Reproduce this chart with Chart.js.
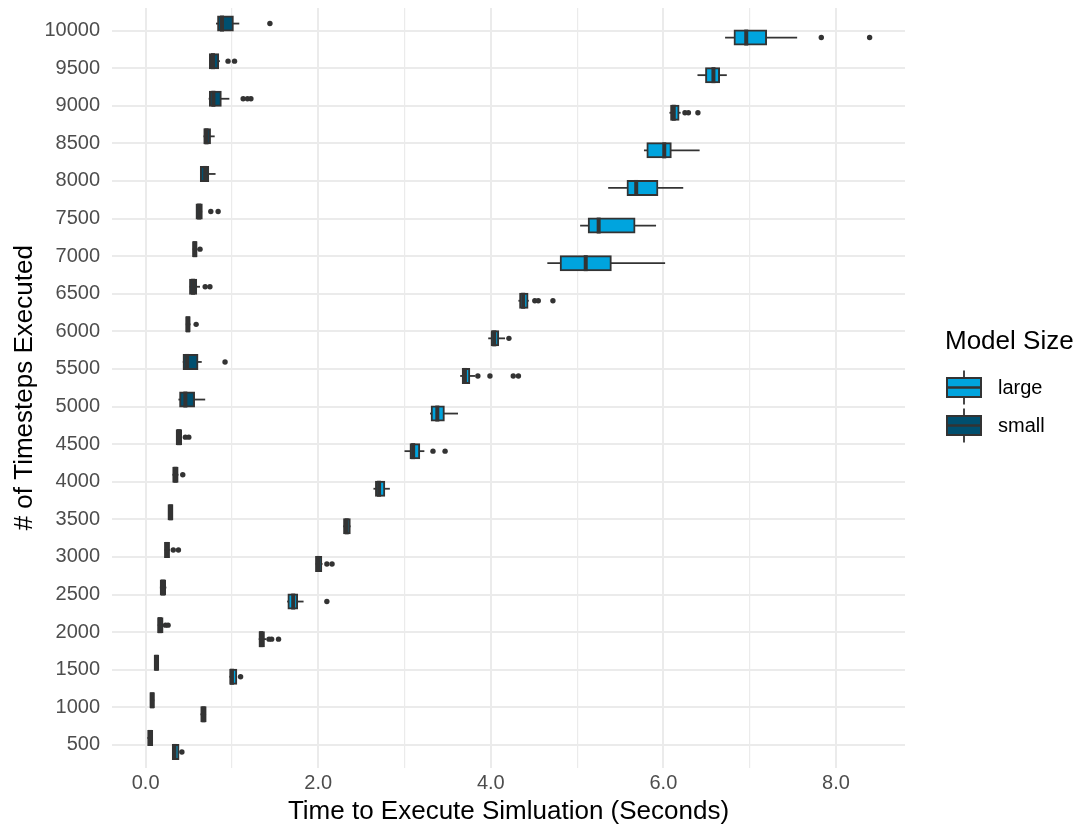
<!DOCTYPE html>
<html>
<head>
<meta charset="utf-8">
<script src="https://cdn.jsdelivr.net/npm/chart.js@4.4.1/dist/chart.umd.min.js"></script>
<style>
  html, body { margin: 0; padding: 0; background: #ffffff; }
  #c { display: block; }
</style>
</head>
<body>
<canvas id="c" width="1076" height="830"></canvas>
<script>
// Number of timesteps per run (y categories, bottom to top)
const steps = [500, 1000, 1500, 2000, 2500, 3000, 3500, 4000, 4500, 5000,
               5500, 6000, 6500, 7000, 7500, 8000, 8500, 9000, 9500, 10000];

// x-axis tick values (seconds)
const xTicks = [0, 1, 2, 3, 4, 5, 6, 7, 8];

// Large model: box-plot summaries (seconds)
const largeLo  = [0.31, 0.635, 0.97, 1.31, 1.64, 1.97, 2.29, 2.64, 3.00, 3.295,
                  3.645, 3.97, 4.32, 4.655, 5.035, 5.36, 5.775, 6.07, 6.395, 6.715];
const largeQ1  = [0.315, 0.645, 0.98, 1.32, 1.655, 1.975, 2.30, 2.67, 3.07, 3.315,
                  3.675, 4.01, 4.34, 4.81, 5.135, 5.585, 5.815, 6.09, 6.495, 6.825];
const largeMed = [0.335, 0.67, 1.00, 1.34, 1.71, 2.00, 2.33, 2.705, 3.10, 3.38,
                  3.70, 4.04, 4.375, 5.10, 5.25, 5.685, 6.01, 6.12, 6.58, 6.96];
const largeQ3  = [0.38, 0.695, 1.05, 1.37, 1.755, 2.035, 2.365, 2.765, 3.17, 3.455,
                  3.75, 4.085, 4.425, 5.39, 5.665, 5.93, 6.085, 6.175, 6.645, 7.19];
const largeHi  = [0.39, 0.70, 1.06, 1.40, 1.83, 2.05, 2.375, 2.83, 3.23, 3.62,
                  3.82, 4.165, 4.44, 6.02, 5.915, 6.23, 6.42, 6.20, 6.735, 7.55];
const largeOut = [[0.42], [], [1.10], [1.43, 1.46, 1.54], [2.10], [2.10, 2.16], [], [], [3.33, 3.47], [],
                  [3.85, 3.99, 4.26, 4.32], [4.21], [4.51, 4.55, 4.72], [], [], [], [], [6.25, 6.29, 6.40], [], [7.83, 8.39]];

// Small model: box-plot summaries (seconds)
const smallLo  = [0.02, 0.05, 0.10, 0.14, 0.165, 0.22, 0.26, 0.31, 0.355, 0.38,
                  0.43, 0.465, 0.51, 0.545, 0.585, 0.63, 0.67, 0.73, 0.74, 0.815];
const smallQ1  = [0.03, 0.055, 0.105, 0.145, 0.175, 0.225, 0.265, 0.32, 0.36, 0.40,
                  0.44, 0.47, 0.515, 0.55, 0.59, 0.64, 0.68, 0.745, 0.745, 0.84];
const smallMed = [0.05, 0.075, 0.125, 0.165, 0.20, 0.245, 0.29, 0.345, 0.385, 0.46,
                  0.48, 0.49, 0.55, 0.57, 0.62, 0.69, 0.705, 0.785, 0.78, 0.885];
const smallQ3  = [0.075, 0.095, 0.145, 0.195, 0.225, 0.27, 0.31, 0.37, 0.41, 0.56,
                  0.60, 0.51, 0.585, 0.59, 0.65, 0.725, 0.745, 0.87, 0.84, 1.01];
const smallHi  = [0.085, 0.10, 0.15, 0.20, 0.24, 0.28, 0.315, 0.38, 0.42, 0.69,
                  0.65, 0.52, 0.63, 0.60, 0.655, 0.81, 0.80, 0.97, 0.86, 1.085];
const smallOut = [[], [], [], [0.23, 0.26], [], [0.32, 0.38], [], [0.43], [0.46, 0.50], [],
                  [0.92], [0.585], [0.69, 0.745], [0.63], [0.755, 0.84], [], [], [1.13, 1.18, 1.22], [0.955, 1.03], [1.44]];

const LINE = '#333333';
const FONT = "'Liberation Sans', Arial, Helvetica, sans-serif";

// The first dataset sits on the upper half of each row.
const series = [
  { label: 'small', color: '#004F6F', lo: smallLo, q1: smallQ1, med: smallMed, q3: smallQ3, hi: smallHi, out: smallOut },
  { label: 'large', color: '#00A4DE', lo: largeLo, q1: largeQ1, med: largeMed, q3: largeQ3, hi: largeHi, out: largeOut }
];

// Whiskers under the boxes; medians and outliers on top.
const boxExtras = {
  id: 'boxExtras',
  beforeDatasetsDraw(chart) {
    const ctx = chart.ctx, xs = chart.scales.x;
    chart.data.datasets.forEach((ds, d) => {
      chart.getDatasetMeta(d).data.forEach((bar, i) => {
        const { y } = bar.getProps(['y'], true);
        ctx.save();
        ctx.strokeStyle = LINE;
        ctx.lineWidth = 1.8;
        ctx.beginPath();
        ctx.moveTo(xs.getPixelForValue(ds.stats.lo[i]), y);
        ctx.lineTo(xs.getPixelForValue(ds.stats.hi[i]), y);
        ctx.stroke();
        ctx.restore();
      });
    });
  },
  afterDatasetsDraw(chart) {
    const ctx = chart.ctx, xs = chart.scales.x;
    chart.data.datasets.forEach((ds, d) => {
      chart.getDatasetMeta(d).data.forEach((bar, i) => {
        const { y, height } = bar.getProps(['y', 'height'], true);
        const half = height / 2 + 1;
        const mx = xs.getPixelForValue(ds.stats.med[i]);
        ctx.save();
        ctx.strokeStyle = LINE;
        ctx.lineWidth = 4;
        ctx.beginPath();
        ctx.moveTo(mx, y - half);
        ctx.lineTo(mx, y + half);
        ctx.stroke();
        ctx.fillStyle = LINE;
        ds.stats.out[i].forEach(v => {
          ctx.beginPath();
          ctx.arc(xs.getPixelForValue(v), y, 2.7, 0, Math.PI * 2);
          ctx.fill();
        });
        ctx.restore();
      });
    });
  }
};

// Legend on the right: title plus a box-plot key per model size.
const boxLegend = {
  id: 'boxLegend',
  afterDraw(chart) {
    const ctx = chart.ctx;
    const left = chart.chartArea.right + 40;
    ctx.save();
    ctx.fillStyle = '#000000';
    ctx.font = '26px ' + FONT;
    ctx.textAlign = 'left';
    ctx.textBaseline = 'middle';
    ctx.fillText('Model Size', left, 342);
    const order = ['large', 'small'];
    order.forEach((name, k) => {
      const ds = chart.data.datasets.find(s => s.label === name);
      const yc = 387.5 + k * 38;
      const bx = left + 2, bw = 34, bh = 19;
      ctx.strokeStyle = LINE;
      ctx.lineWidth = 1.8;
      ctx.beginPath();
      ctx.moveTo(bx + bw / 2, yc - 17);
      ctx.lineTo(bx + bw / 2, yc + 17);
      ctx.stroke();
      ctx.fillStyle = ds.backgroundColor;
      ctx.fillRect(bx, yc - bh / 2, bw, bh);
      ctx.lineWidth = 2;
      ctx.strokeRect(bx, yc - bh / 2, bw, bh);
      ctx.lineWidth = 2.5;
      ctx.beginPath();
      ctx.moveTo(bx, yc);
      ctx.lineTo(bx + bw, yc);
      ctx.stroke();
      ctx.fillStyle = '#000000';
      ctx.font = '20px ' + FONT;
      ctx.fillText(name, left + 53, yc + 1);
    });
    ctx.restore();
  }
};

Chart.defaults.font.family = FONT;

new Chart(document.getElementById('c'), {
  type: 'bar',
  data: {
    datasets: series.map(s => ({
      label: s.label,
      data: steps.map((_, i) => ({ y: i + 1, x: [s.q1[i], s.q3[i]] })),
      stats: s,
      backgroundColor: s.color,
      borderColor: LINE,
      borderWidth: 2,
      borderSkipped: false,
      inflateAmount: 1,
      barThickness: 14
    }))
  },
  options: {
    indexAxis: 'y',
    responsive: false,
    animation: false,
    devicePixelRatio: 1,
    layout: { padding: { left: 0, top: 8, right: 171, bottom: 0 } },
    plugins: { legend: { display: false }, tooltip: { enabled: false } },
    scales: {
      x: {
        type: 'linear',
        min: -0.39,
        max: 8.80,
        afterBuildTicks: (axis) => { axis.ticks = xTicks.map(v => ({ value: v })); },
        afterFit: (axis) => {
          axis.height = 62.5;
          axis.paddingLeft = 0;
          axis.paddingRight = 0;
        },
        border: { display: false },
        grid: {
          color: '#EBEBEB',
          lineWidth: (c) => (c.tick && c.tick.value % 2 === 0 ? 2 : 1.2),
          drawTicks: false
        },
        ticks: {
          autoSkip: false,
          maxRotation: 0,
          padding: 4,
          color: '#4D4D4D',
          font: { size: 20 },
          callback: (v) => (v % 2 === 0 ? v.toFixed(1) : '')
        },
        title: {
          display: true,
          text: 'Time to Execute Simluation (Seconds)',
          color: '#000000',
          font: { size: 26 },
          padding: { top: 0, bottom: 3 }
        }
      },
      y: {
        type: 'linear',
        min: 0.4,
        max: 20.6,
        offset: false,
        afterBuildTicks: (axis) => { axis.ticks = steps.map((_, i) => ({ value: i + 1 })); },
        afterFit: (axis) => {
          axis.width = 112;
          axis.paddingTop = 0;
          axis.paddingBottom = 0;
        },
        border: { display: false },
        grid: { color: '#EBEBEB', lineWidth: 2, drawTicks: false, offset: false },
        ticks: {
          autoSkip: false,
          padding: 12,
          color: '#4D4D4D',
          font: { size: 20 },
          callback: (v) => String(steps[v - 1])
        },
        title: {
          display: true,
          text: '# of Timesteps Executed',
          color: '#000000',
          font: { size: 26 },
          padding: { top: 9, bottom: 0 }
        }
      }
    }
  },
  plugins: [boxExtras, boxLegend]
});
</script>
</body>
</html>
